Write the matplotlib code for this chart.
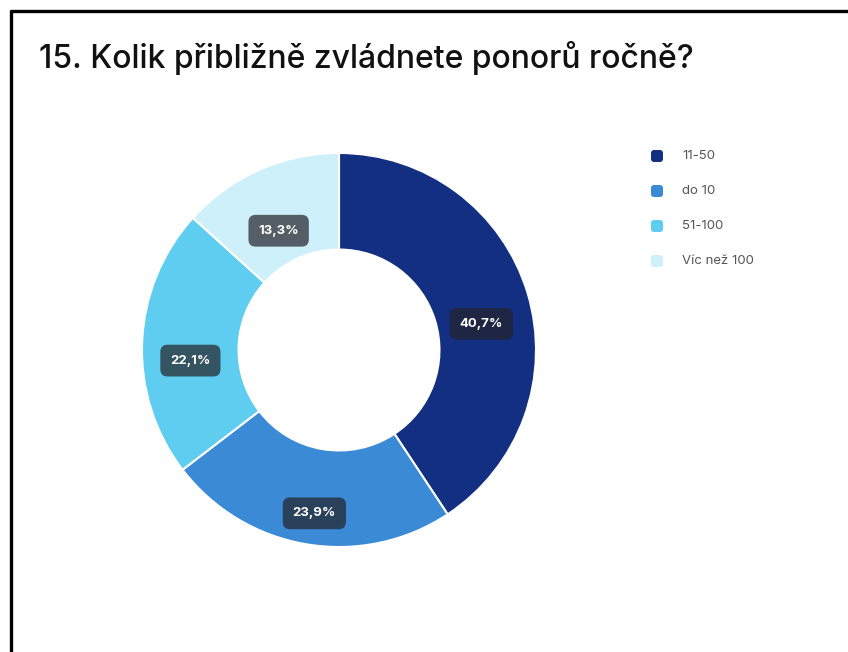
import matplotlib.pyplot as plt
from matplotlib.patches import FancyBboxPatch
import numpy as np

categories = ["11-50", "do 10", "51-100", "Víc než 100"]
values = [40.7, 23.9, 22.1, 13.3]
colors = ["#122f82", "#3a8ad6", "#5ecdef", "#cdf0fa"]
title = "15. Kolik přibližně zvládnete ponorů ročně?"

W, H = 848, 652
fig = plt.figure(figsize=(W / 100, H / 100), dpi=100)

# overlay in pixel coordinates for frame, title and legend
lay = fig.add_axes([0, 0, 1, 1])
lay.set_xlim(0, W)
lay.set_ylim(H, 0)
lay.axis("off")
lay.plot([10, W], [11, 11], color="black", lw=2.4, solid_capstyle="butt")
lay.plot([11, 11], [10, H], color="black", lw=2.4, solid_capstyle="butt")
lay.text(39, 68, title, fontsize=23, family="Inter", fontweight="medium",
         color="#111111", va="baseline", ha="left")

for i, (cat, col) in enumerate(zip(categories, colors)):
    y = 156 + 35 * i
    lay.add_patch(FancyBboxPatch((651, y - 6), 12, 12,
                                 boxstyle="round,pad=0,rounding_size=3",
                                 fc=col, ec="none"))
    lay.text(682, y, cat, fontsize=9.5, family="Inter", color="#555555",
             va="center", ha="left")

# donut
R = 197
cx, cy = 339, 350
ax = fig.add_axes([(cx - R) / W, (H - cy - R) / H, 2 * R / W, 2 * R / H])
ring = 0.49
wedges, _ = ax.pie(values, colors=colors, startangle=90, counterclock=False,
                   radius=1, wedgeprops=dict(width=ring, edgecolor="white", linewidth=1.5))
ax.set_xlim(-1, 1)
ax.set_ylim(-1, 1)
ax.axis("off")

for w, v in zip(wedges, values):
    mid = np.deg2rad((w.theta1 + w.theta2) / 2)
    r = 1 - ring / 2
    ax.annotate(f"{v:.1f}%".replace(".", ","), (r * np.cos(mid), r * np.sin(mid)),
                xytext=(0, -12), textcoords="offset points",
                ha="center", va="center", fontsize=9.5, fontweight="bold",
                family="Inter", color="white",
                bbox=dict(boxstyle="round,pad=0.75,rounding_size=0.55",
                          fc=(0.137, 0.137, 0.16, 0.71), ec="none"))

fig.savefig("out.png", dpi=100)
